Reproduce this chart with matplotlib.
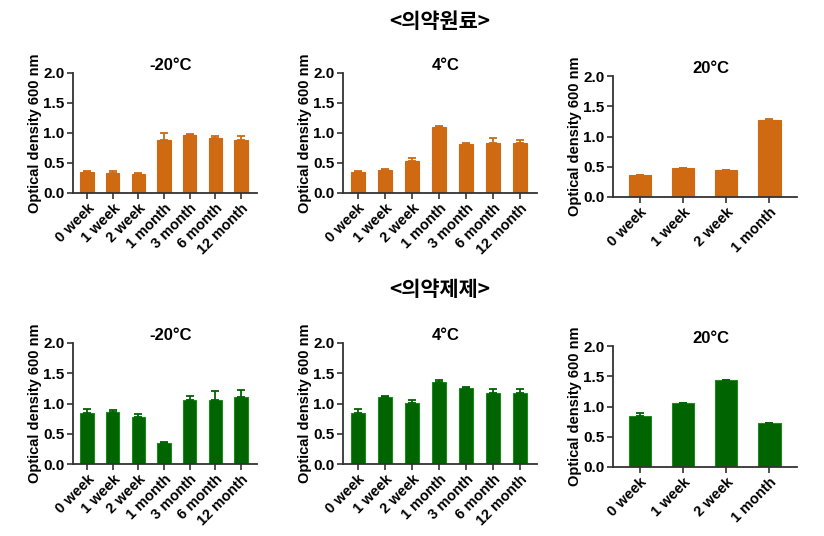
import matplotlib
matplotlib.use("Agg")
import matplotlib.pyplot as plt
import numpy as np

plt.rcParams['font.family'] = ['Liberation Sans', 'DejaVu Sans']
plt.rcParams['font.weight'] = 'bold'

labels7 = ["0 week", "1 week", "2 week", "1 month", "3 month", "6 month", "12 month"]
labels4 = ["0 week", "1 week", "2 week", "1 month"]

# 의약원료 (raw material)
raw_m20 = [0.35, 0.34, 0.32, 0.89, 0.97, 0.92, 0.89]
raw_m20_err = [0.01, 0.03, 0.01, 0.11, 0.01, 0.03, 0.06]
raw_4 = [0.35, 0.39, 0.54, 1.10, 0.82, 0.84, 0.84]
raw_4_err = [0.01, 0.01, 0.04, 0.02, 0.01, 0.07, 0.04]
raw_20 = [0.36, 0.48, 0.45, 1.28]
raw_20_err = [0.0, 0.0, 0.0, 0.01]

# 의약제제 (formulation)
form_m20 = [0.84, 0.86, 0.78, 0.35, 1.06, 1.05, 1.11]
form_m20_err = [0.07, 0.04, 0.05, 0.02, 0.07, 0.16, 0.12]
form_4 = [0.84, 1.10, 1.01, 1.36, 1.25, 1.18, 1.18]
form_4_err = [0.07, 0.02, 0.04, 0.03, 0.03, 0.06, 0.06]
form_20 = [0.84, 1.05, 1.44, 0.73]
form_20_err = [0.05, 0.01, 0.0, 0.0]

titles = ["-20°C", "4°C", "20°C"]
orange = "#CF6A12"
green = "#006400"
green_edge = "#1E8A1E"

fig = plt.figure(figsize=(8.24, 5.36), dpi=100)
W, H = 824.0, 536.0

def make_ax(x0, x1, ytop, ybot):
    return fig.add_axes([x0 / W, 1 - ybot / H, (x1 - x0) / W, (ybot - ytop) / H])

def draw(ax, labels, vals, errs, title, color, edge):
    n = len(labels)
    x = np.arange(n)
    ax.bar(x, vals, width=0.52, color=color, edgecolor=edge, linewidth=0.8, zorder=2)
    ax.errorbar(x, vals, yerr=[np.zeros(n), errs], fmt='none', ecolor=color,
                elinewidth=1.3, capsize=3, capthick=1.3, zorder=3)
    ax.set_ylim(0, 2.0)
    if n == 7:
        ax.set_xlim(-0.55, 6.62)
    else:
        ax.set_xlim(-0.62, 3.64)
    ax.set_yticks([0.0, 0.5, 1.0, 1.5, 2.0])
    ax.set_yticklabels(["0.0", "0.5", "1.0", "1.5", "2.0"], fontsize=11, fontweight='bold')
    ax.set_xticks(x)
    ax.set_xticklabels(labels, rotation=45, ha='right', rotation_mode='anchor',
                       fontsize=10.5, fontweight='bold')
    for s in ['top', 'right']:
        ax.spines[s].set_visible(False)
    for s in ['left', 'bottom']:
        ax.spines[s].set_linewidth(1.3)
        ax.spines[s].set_color('#333333')
    ax.tick_params(axis='both', direction='out', length=4, width=1.2, color='#333333', pad=2)
    ax.set_ylabel("Optical density 600 nm", fontsize=10.5, fontweight='bold', labelpad=1)
    ax.set_title(title, fontsize=12, fontweight='bold', pad=1, x=0.53)

# top row
axs_top = [make_ax(73, 257, 73, 193), make_ax(343, 537, 73, 193), make_ax(613, 797, 76, 197)]
draw(axs_top[0], labels7, raw_m20, raw_m20_err, titles[0], orange, orange)
draw(axs_top[1], labels7, raw_4, raw_4_err, titles[1], orange, orange)
draw(axs_top[2], labels4, raw_20, raw_20_err, titles[2], orange, orange)

# bottom row
axs_bot = [make_ax(73, 257, 343, 464), make_ax(343, 537, 343, 464), make_ax(613, 797, 346, 467)]
draw(axs_bot[0], labels7, form_m20, form_m20_err, titles[0], green, green_edge)
draw(axs_bot[1], labels7, form_4, form_4_err, titles[1], green, green_edge)
draw(axs_bot[2], labels4, form_20, form_20_err, titles[2], green, green_edge)

fig.text(440 / W, 1 - 21 / H, "<의약원료>", ha='center', va='center', fontsize=15,
         fontweight='bold', family=['Noto Sans CJK KR', 'DejaVu Sans'])
fig.text(440 / W, 1 - 289 / H, "<의약제제>", ha='center', va='center', fontsize=15,
         fontweight='bold', family=['Noto Sans CJK KR', 'DejaVu Sans'])

fig.savefig("out.png", dpi=100)
